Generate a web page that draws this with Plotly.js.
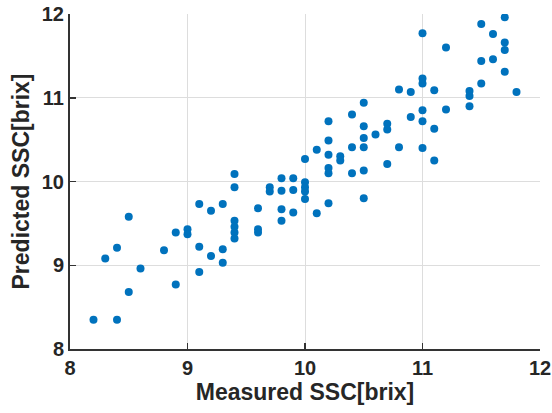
<!DOCTYPE html>
<html>
<head>
<meta charset="utf-8">
<script src="https://cdn.plot.ly/plotly-3.0.1.min.js"></script>
<style>html,body{margin:0;padding:0;background:#fff;}#chart{width:552px;height:413px;}</style>
</head>
<body>
<div id="chart"></div>
<script>
// Measured SSC [brix]
var measured = [
  8.2, 8.3, 8.4, 8.4, 8.5, 8.5, 8.6, 8.8, 8.9, 8.9,
  9.0, 9.0, 9.1, 9.1, 9.1, 9.2, 9.2, 9.3, 9.3, 9.3,
  9.4, 9.4, 9.4, 9.4, 9.4, 9.4, 9.6, 9.6, 9.6, 9.7, 9.7,
  9.8, 9.8, 9.8, 9.8, 9.9, 9.9, 9.9,
  10.0, 10.0, 10.0, 10.0, 10.0, 10.1, 10.1,
  10.2, 10.2, 10.2, 10.2, 10.2, 10.2, 10.3, 10.3,
  10.4, 10.4, 10.4, 10.5, 10.5, 10.5, 10.5, 10.5, 10.5,
  10.6, 10.7, 10.7, 10.7, 10.8, 10.8, 10.9, 10.9,
  11.0, 11.0, 11.0, 11.0, 11.0, 11.0, 11.1, 11.1, 11.1,
  11.2, 11.2, 11.4, 11.4, 11.4, 11.5, 11.5, 11.5,
  11.6, 11.6, 11.7, 11.7, 11.7, 11.7, 11.8
];
// Predicted SSC [brix]
var predicted = [
  8.35, 9.08, 9.21, 8.35, 9.58, 8.68, 8.96, 9.18, 9.39, 8.77,
  9.43, 9.37, 9.73, 9.22, 8.92, 9.65, 9.11, 9.73, 9.19, 9.03,
  10.09, 9.93, 9.53, 9.46, 9.39, 9.32, 9.68, 9.43, 9.39, 9.93, 9.88,
  10.04, 9.89, 9.67, 9.53, 10.04, 9.90, 9.63,
  10.27, 9.99, 9.93, 9.88, 9.79, 10.38, 9.62,
  10.72, 10.49, 10.32, 10.16, 10.10, 9.74, 10.30, 10.25,
  10.80, 10.41, 10.10, 10.94, 10.66, 10.52, 10.41, 10.13, 9.80,
  10.56, 10.69, 10.62, 10.21, 11.10, 10.41, 11.07, 10.77,
  11.77, 11.23, 11.17, 10.85, 10.72, 10.40, 11.09, 10.63, 10.25,
  11.60, 10.86, 11.08, 11.02, 10.90, 11.88, 11.44, 11.17,
  11.76, 11.46, 11.96, 11.66, 11.57, 11.31, 11.07
];
var tickVals = [8, 9, 10, 11, 12];
var tickText = ['8', '9', '10', '11', '12'];

var trace = {
  x: measured,
  y: predicted,
  type: 'scatter',
  mode: 'markers',
  marker: {color: '#0072BD', size: 8, line: {width: 0}},
  hoverinfo: 'x+y'
};

var fontFam = '"Liberation Sans", Arial, Helvetica, sans-serif';
var axisCommon = {
  range: [8, 12],
  tickmode: 'array',
  tickvals: tickVals,
  ticktext: tickText,
  ticks: 'inside',
  ticklen: 6,
  tickwidth: 1.5,
  tickcolor: '#333333',
  showline: true,
  linecolor: '#333333',
  linewidth: 2,
  showgrid: true,
  gridcolor: '#dddddd',
  gridwidth: 1,
  zeroline: false,
  tickfont: {family: fontFam, size: 20, color: '#262626', weight: 'bold'}
};

var layout = {
  width: 552,
  height: 413,
  margin: {l: 70, r: 12, t: 14, b: 64},
  paper_bgcolor: '#ffffff',
  plot_bgcolor: '#ffffff',
  showlegend: false,
  font: {family: fontFam},
  xaxis: Object.assign({}, axisCommon, {
    title: {text: '<b>Measured SSC[brix]</b>', font: {family: fontFam, size: 23, color: '#262626'}, standoff: 4}
  }),
  yaxis: Object.assign({}, axisCommon, {
    title: {text: '<b>Predicted SSC[brix]</b>', font: {family: fontFam, size: 23, color: '#262626'}, standoff: 6}
  })
};

Plotly.newPlot('chart', [trace], layout, {displayModeBar: false, staticPlot: true});
</script>
</body>
</html>
